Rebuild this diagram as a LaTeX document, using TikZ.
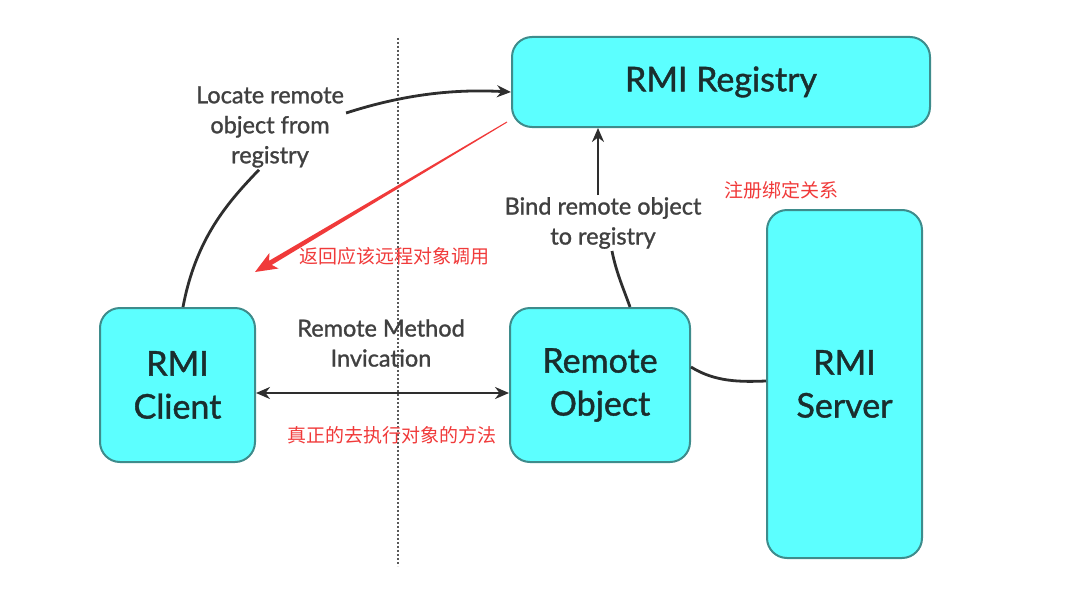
\documentclass[tikz,border=0pt]{standalone}
\usepackage{fontspec}
\setmainfont{Lato}
\newfontfamily\cjk{Noto Sans CJK SC}
\usetikzlibrary{arrows.meta}
\definecolor{boxfill}{HTML}{5CFFFF}
\definecolor{boxline}{HTML}{3E8C8C}
\definecolor{txt}{HTML}{1A2E2E}
\definecolor{lbl}{HTML}{404040}
\definecolor{note}{HTML}{F03A3A}
\begin{document}
\begin{tikzpicture}[x=1pt,y=-1pt,
  box/.style={draw=boxline,fill=boxfill,line width=2pt,rounded corners=20pt,inner sep=0pt,
    text=txt,font=\fontsize{34}{43}\selectfont\addfontfeatures{FakeBold=1.2},align=center},
  lab/.style={text=lbl,font=\fontsize{23.5}{30}\selectfont\addfontfeatures{FakeBold=1.2},align=center,inner sep=2pt},
  cn/.style={text=note,font=\cjk\fontsize{19}{22}\selectfont,inner sep=0pt},
  conn/.style={draw=black!82,line width=2.8pt},
  tip/.style={-{Stealth[length=14pt,width=12pt]}}
]
\useasboundingbox (0,0) rectangle (1091,594);
% separator
\draw[draw=black!65,line width=2.8pt,dash pattern=on 2pt off 2pt] (398,38) -- (398,566);
% boxes
\node[box,minimum width=418pt,minimum height=90pt] (reg) at (721,82) {RMI Registry};
\node[box,minimum width=155pt,minimum height=154pt] (client) at (177.5,385) {RMI\\Client};
\node[box,minimum width=180pt,minimum height=154pt] (robj) at (600,385) {Remote\\Object};
\node[box,minimum width=155pt,minimum height=348pt] (server) at (844.5,384) {RMI\\Server};
% labels
\node[lab] (locate) at (270,127) {Locate remote\\object from\\registry};
\node[lab] (bind) at (603,223) {Bind remote object\\to registry};
\node[lab] (rmi) at (381,343) {Remote Method\\Invication};
% notes
\node[cn,anchor=west] (n1) at (299,256) {返回应该远程对象调用};
\node[cn,anchor=west] (n2) at (724,190) {注册绑定关系};
\node[cn,anchor=west] (n3) at (287,435) {真正的去执行对象的方法};
% connectors
\draw[conn] ([xshift=5.5pt]client.north) .. controls (196,238) and (228,202) .. (locate.south east -| 259,0);
\draw[conn,tip] (locate.north east |- 0,113) .. controls (405,94) and (455,89) .. (reg.west |- 0,92);
\draw[conn] ([xshift=30pt]robj.north) .. controls (624,290) and (616,272) .. (bind.south -| 612,0);
\draw[conn,tip] (bind.north -| 598,0) -- (reg.south -| 598,0);
\draw[conn] (robj.east |- 0,367) .. controls (715,382) and (740,382) .. (server.west |- 0,381);
\draw[conn,{Stealth[length=14pt,width=12pt]}-{Stealth[length=14pt,width=12pt]}] (client.east |- 0,393) -- (robj.west |- 0,393);
% red annotation arrow
\coordinate (rs) at (507,122);
\coordinate (rt) at (255,272);
\fill[note] (507.26,122.43) -- (271.8,264.9) -- (278.5,268.5) -- (rt) -- (269.3,253.1) -- (269.2,260.7) -- (506.74,121.57) -- cycle;
\end{tikzpicture}
\end{document}
